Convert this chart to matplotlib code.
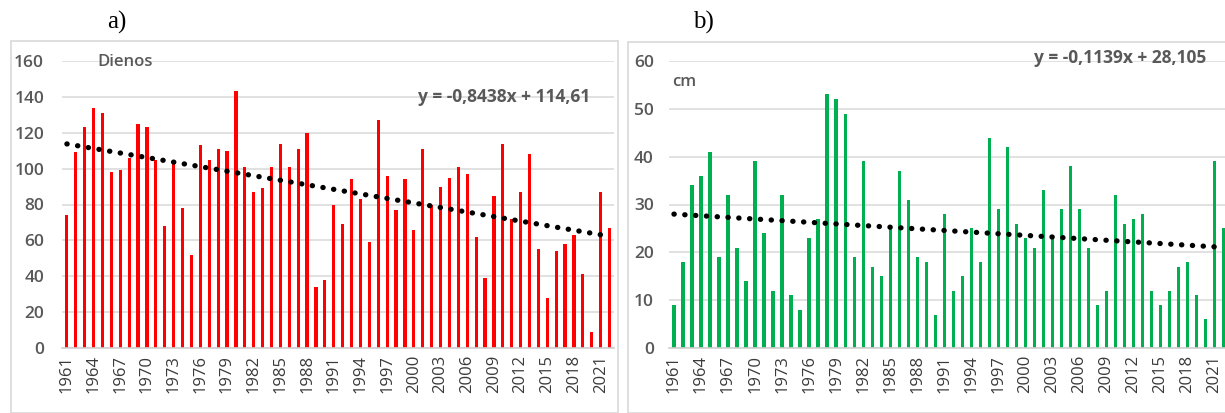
import numpy as np
import matplotlib.pyplot as plt
from matplotlib.patches import Rectangle

# === Data ===
years = list(range(1961, 2023))

snow_days = [74, 109, 123, 134, 131, 98, 99, 106, 125, 123, 105, 68, 103, 78, 52,
             113, 105, 111, 110, 143, 101, 87, 89, 101, 114, 101, 111, 120,
             34, 38, 80, 69, 94, 83, 59, 127, 96, 77, 94, 66, 111, 80, 90, 95,
             101, 97, 62, 39, 85, 114, 72, 87, 108, 55, 28, 54, 58, 63, 41, 9, 87, 67]

snow_depth = [9, 18, 34, 36, 41, 19, 32, 21, 14, 39, 24, 12, 32, 11, 8, 23, 27, 53,
              52, 49, 19, 39, 17, 15, 25, 37, 31, 19, 18,
              7, 28, 12, 15, 25, 18, 44, 29, 42, 26, 23, 21, 33, 23, 29, 38, 29,
              21, 9, 12, 32, 26, 27, 28, 12, 9, 12, 17, 18, 11, 6, 39, 25]

# trend lines as printed on the chart (x = 1..62)
trend_a = (-0.8438, 114.61)
trend_b = (-0.1139, 28.105)

tick_years = years[::3]

W, H = 1225, 413
fig = plt.figure(figsize=(W / 100, H / 100), dpi=100)
fig.patch.set_facecolor("white")

txt_col = "#595959"
font = "Open Sans"


def px_axes(x0, y0, x1, y1):
    # pixel box (top-left origin) -> figure axes
    return fig.add_axes([x0 / W, 1 - y1 / H, (x1 - x0) / W, (y1 - y0) / H])


def px_text(x, y, s, **kw):
    return fig.text(x / W, 1 - y / H, s, **kw)


def draw_panel(ax, values, color, trend, ymax, ystep, ypad):
    ax.bar(years, values, width=0.36, color=color, zorder=2)
    x = np.arange(1, len(years) + 1)
    ax.plot(years, trend[0] * x + trend[1], color="black", lw=3.8,
            linestyle=(0, (0.05, 2.0)), dash_capstyle="round", zorder=3)
    ax.set_ylim(0, ymax)
    ax.set_yticks(np.arange(0, ymax + 1, ystep))
    ax.set_xlim(1960.45, 2022.5)
    ax.set_xticks(tick_years)
    ax.set_xticklabels([str(y) for y in tick_years], rotation=90,
                       fontsize=12, color="#3a3a3a", family=font)
    for lab in ax.get_yticklabels():
        lab.set_fontsize(12.5)
        lab.set_color(txt_col)
        lab.set_family(font)
        lab.set_fontweight("semibold")
    ax.tick_params(axis="both", length=0)
    ax.tick_params(axis="y", pad=ypad)
    ax.tick_params(axis="x", pad=5)
    ax.grid(axis="y", color="#d9d9d9", lw=1.1, zorder=0)
    for s in ["top", "right", "left"]:
        ax.spines[s].set_visible(False)
    ax.spines["bottom"].set_color("#d0d0d0")
    ax.spines["bottom"].set_linewidth(1.2)
    ax.set_facecolor("none")


# panel frames
fig.patches.append(Rectangle((11 / W, 0), (618 - 11) / W, 1 - 41 / H,
                             transform=fig.transFigure, fill=False,
                             edgecolor="#d9d9d9", lw=1.2))
fig.patches.append(Rectangle((628 / W, 0), (1240 - 628) / W, 1 - 42 / H,
                             transform=fig.transFigure, fill=False,
                             edgecolor="#d9d9d9", lw=1.2))

ax1 = px_axes(62, 61, 614, 348)
draw_panel(ax1, snow_days, "#ff0000", trend_a, 160, 20, 13)
px_text(97, 62, "Dienos", fontsize=12, color=txt_col, family=font,
        fontweight="semibold", va="center", ha="left")
px_text(590, 97, "y = -0,8438x + 114,61", fontsize=12.5, color=txt_col,
        family=font, fontweight="bold", ha="right", va="center")

ax2 = px_axes(669, 61, 1228, 348)
draw_panel(ax2, snow_depth, "#00b050", trend_b, 60, 10, 11)
px_text(672, 82, "cm", fontsize=12, color=txt_col, family=font,
        fontweight="semibold", va="center", ha="left")
px_text(1206, 58, "y = -0,1139x + 28,105", fontsize=12.5, color=txt_col,
        family=font, fontweight="bold", ha="right", va="center")

px_text(117, 22, "a)", fontsize=18, family="Liberation Serif",
        ha="center", va="center")
px_text(703, 22, "b)", fontsize=18, family="Liberation Serif",
        ha="center", va="center")

fig.savefig("out.png", dpi=100)
